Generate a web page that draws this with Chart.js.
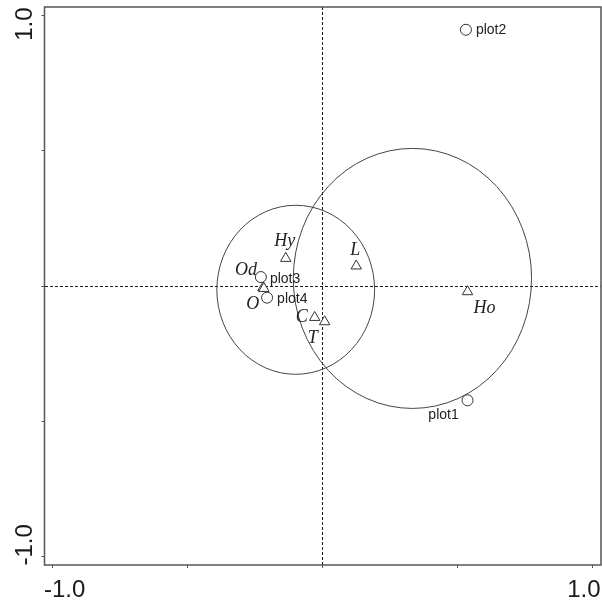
<!DOCTYPE html>
<html><head><meta charset="utf-8">
<script src="https://cdn.jsdelivr.net/npm/chart.js@4/dist/chart.umd.min.js"></script>
<style>html,body{margin:0;padding:0;background:#fff;overflow:hidden}#wrap{width:602px;height:600px}canvas{display:block}</style>
</head><body><div id="wrap"><canvas id="c" width="602" height="600"></canvas></div>
<script>
// ---- data ----
const plotNames = ['plot1', 'plot2', 'plot3', 'plot4'];
const plotX = [0.536, 0.530, -0.229, -0.206];
const plotY = [-0.422, 0.946, 0.033, -0.043];

const speciesNames = ['Hy', 'L', 'Od', 'O', 'C', 'T', 'Ho'];
const speciesX = [-0.137, 0.124, -0.221, -0.218, -0.030, 0.007, 0.536];
const speciesY = [0.102, 0.074, -0.006, -0.009, -0.116, -0.132, -0.021];

const ellipseCX = [-0.100, 0.332];
const ellipseCY = [-0.014, 0.028];
const ellipseRX = [0.292, 0.441];
const ellipseRY = [0.312, 0.480];

const tickValues = [-1, -0.5, 0, 0.5, 1];
const tickLabels = ['-1.0', '', '', '', '1.0'];

// ---- styling (label offsets in pixels) ----
const labelStyle = {
  plot1: {dx: -24, dy: 15, align: 'center'},
  plot2: {dx: 10, dy: 0, align: 'left'},
  plot3: {dx: 9, dy: 2, align: 'left'},
  plot4: {dx: 10, dy: 1, align: 'left'},
  Hy: {dx: -1, dy: -17, align: 'center'},
  L: {dx: -1, dy: -16, align: 'center'},
  Od: {dx: -17, dy: -17, align: 'center'},
  O: {dx: -11, dy: 16, align: 'center'},
  C: {dx: -13, dy: 0, align: 'center'},
  T: {dx: -12, dy: 17, align: 'center'},
  Ho: {dx: 17, dy: 17, align: 'center'}
};

const ellipsePlugin = {
  id: 'ellipses',
  beforeDatasetsDraw(chart) {
    const {ctx, scales: {x: xs, y: ys}} = chart;
    ctx.save();
    ctx.strokeStyle = '#444';
    ctx.lineWidth = 1;
    for (let i = 0; i < ellipseCX.length; i++) {
      const cx = xs.getPixelForValue(ellipseCX[i]);
      const cy = ys.getPixelForValue(ellipseCY[i]);
      const rx = xs.getPixelForValue(ellipseCX[i] + ellipseRX[i]) - cx;
      const ry = cy - ys.getPixelForValue(ellipseCY[i] + ellipseRY[i]);
      ctx.beginPath();
      ctx.ellipse(cx, cy, rx, ry, 0, 0, Math.PI * 2);
      ctx.stroke();
    }
    ctx.restore();
  },
  afterDatasetsDraw(chart) {
    const {ctx, chartArea: a, scales: {x: xs, y: ys}} = chart;
    ctx.save();
    ctx.strokeStyle = '#555';
    ctx.lineWidth = 1.5;
    ctx.strokeRect(a.left, a.top, a.right - a.left, a.bottom - a.top);
    ctx.fillStyle = '#222';
    ctx.textBaseline = 'middle';
    ctx.font = '14px "Liberation Sans", Arial, sans-serif';
    plotNames.forEach((n, i) => {
      const s = labelStyle[n];
      ctx.textAlign = s.align;
      ctx.fillText(n, xs.getPixelForValue(plotX[i]) + s.dx, ys.getPixelForValue(plotY[i]) + s.dy);
    });
    ctx.font = 'italic 18px "Liberation Serif", "Times New Roman", serif';
    speciesNames.forEach((n, i) => {
      const s = labelStyle[n];
      ctx.textAlign = s.align;
      ctx.fillText(n, xs.getPixelForValue(speciesX[i]) + s.dx, ys.getPixelForValue(speciesY[i]) + s.dy);
    });
    ctx.font = '24px "Liberation Sans", Arial, sans-serif';
    ctx.fillStyle = '#1a1a1a';
    tickValues.forEach((v, i) => {
      const t = tickLabels[i];
      if (!t) return;
      const inward = v < 0 ? 12 : -9;
      ctx.textAlign = 'center';
      ctx.textBaseline = 'alphabetic';
      ctx.fillText(t, xs.getPixelForValue(v) + inward, 597);
      ctx.save();
      ctx.translate(32, ys.getPixelForValue(v) - inward);
      ctx.rotate(-Math.PI / 2);
      ctx.fillText(t, 0, 0);
      ctx.restore();
    });
    ctx.restore();
  }
};

const axisCommon = {
  type: 'linear',
  min: -1.03,
  max: 1.03,
  afterBuildTicks: s => { s.ticks = tickValues.map(v => ({value: v})); },
  ticks: {display: false},
  grid: {
    color: c => (c.tick && c.tick.value === 0) ? '#1a1a1a' : 'rgba(0,0,0,0)',
    lineWidth: 1,
    drawTicks: true,
    tickLength: 3,
    tickColor: '#555',
    tickWidth: 1
  },
  border: {display: false, dash: [3, 2]}
};

new Chart(document.getElementById('c'), {
  type: 'scatter',
  data: {
    datasets: [
      {
        label: 'plots',
        data: plotNames.map((n, i) => ({x: plotX[i], y: plotY[i]})),
        pointStyle: 'circle', pointRadius: 5.5, borderColor: '#333', backgroundColor: '#fff', borderWidth: 1
      },
      {
        label: 'species',
        data: speciesNames.map((n, i) => ({x: speciesX[i], y: speciesY[i]})),
        pointStyle: 'triangle', pointRadius: 6, borderColor: '#333', backgroundColor: '#fff', borderWidth: 1
      }
    ]
  },
  options: {
    responsive: false,
    animation: false,
    devicePixelRatio: 1,
    layout: {autoPadding: false, padding: {left: 41.5, top: 7, right: 1, bottom: 32}},
    plugins: {legend: {display: false}, tooltip: {enabled: false}},
    scales: {x: {...axisCommon}, y: {...axisCommon}}
  },
  plugins: [ellipsePlugin]
});
</script></body></html>
